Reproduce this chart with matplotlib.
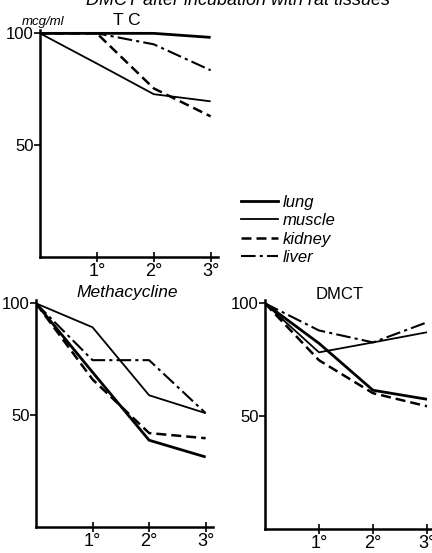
import matplotlib
matplotlib.use("Agg")
import matplotlib.pyplot as plt
from matplotlib.lines import Line2D

plt.rcParams["font.family"] = ["Liberation Sans", "DejaVu Sans"]

hours = [0, 1, 2, 3]
tick_labels = ["1°", "2°", "3°"]

tissues = ["lung", "muscle", "kidney", "liver"]

# mcg/ml remaining
tc = {
    "lung": [100, 100, 100, 98.2],
    "muscle": [100, 86.5, 72.8, 69.6],
    "kidney": [100, 100, 75.4, 62.9],
    "liver": [100, 100, 95.1, 83.5],
}
methacycline = {
    "lung": [100, 69.2, 38.8, 31.3],
    "muscle": [100, 89.3, 58.9, 50.9],
    "kidney": [100, 66.0, 42.0, 39.7],
    "liver": [100, 74.6, 74.6, 50.9],
}
dmct = {
    "lung": [100, 82.3, 61.5, 57.5],
    "muscle": [100, 78.3, 82.7, 87.2],
    "kidney": [100, 74.8, 60.2, 54.4],
    "liver": [100, 88.0, 82.7, 91.6],
}

styles = {
    "lung": dict(color="black", lw=2.0, ls="-"),
    "muscle": dict(color="black", lw=1.3, ls="-"),
    "kidney": dict(color="black", lw=1.8, ls=(0, (4, 2))),
    "liver": dict(color="black", lw=1.5, ls=(0, (7, 2, 1.5, 2))),
}

W, H = 432, 553
fig = plt.figure(figsize=(W / 100, H / 100), dpi=100)


def px_axes(left, top, right, bottom):
    return fig.add_axes([left / W, 1 - bottom / H, (right - left) / W, (bottom - top) / H])


def panel(ax, data):
    for t in tissues:
        ax.plot(hours, data[t], **styles[t], solid_capstyle="butt")
    ax.set_xlim(0, 3.13)
    ax.set_ylim(0, 101.5)
    ax.spines["top"].set_visible(False)
    ax.spines["right"].set_visible(False)
    ax.spines["left"].set_linewidth(1.8)
    ax.spines["bottom"].set_linewidth(1.8)
    ax.set_xticks([1, 2, 3])
    ax.set_xticklabels(tick_labels, fontsize=13)
    ax.set_yticks([50, 100])
    ax.set_yticklabels(["50", "100"], fontsize=12)
    ax.tick_params(axis="x", direction="inout", length=7, width=1.2, pad=1)
    ax.tick_params(axis="y", direction="out", length=4, width=1.2, pad=0.5)


ax1 = px_axes(40, 30, 218, 257)
panel(ax1, tc)
ax2 = px_axes(36, 300, 213, 527)
panel(ax2, methacycline)
ax3 = px_axes(265, 300, 434, 529)
panel(ax3, dmct)

# texts
fig.text(238 / W, 1 - 5 / H, "DMCT after incubation with rat tissues", fontsize=13,
         style="italic", ha="center", va="baseline")
fig.text(22 / W, 1 - 25 / H, "mcg/ml", fontsize=9.5, style="italic", ha="left", va="baseline")
fig.text(113 / W, 1 - 25 / H, "T C", fontsize=12.5, ha="left", va="baseline")
fig.text(127 / W, 1 - 297 / H, "Methacycline", fontsize=12.5, style="italic",
         ha="center", va="baseline")
fig.text(340 / W, 1 - 299 / H, "DMCT", fontsize=12, ha="center", va="baseline")

# legend
handles = [Line2D([], [], **styles[t]) for t in tissues]
fig.legend(handles, tissues, loc="upper left", bbox_to_anchor=(226 / W, 1 - 180 / H),
           frameon=False, handlelength=2.2, handletextpad=0.3, labelspacing=0.2,
           prop={"style": "italic", "size": 12})

fig.savefig("out.png", dpi=100)
